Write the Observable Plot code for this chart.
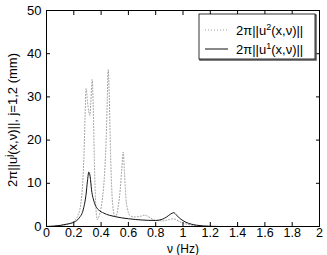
<!DOCTYPE html>
<html><head><meta charset="utf-8">
<script src="https://cdn.jsdelivr.net/npm/d3@7"></script>
<script src="https://cdn.jsdelivr.net/npm/@observablehq/plot@0.6"></script>
<style>
body{margin:0;background:#fff;}
#c{position:relative;width:327px;height:255px;}
svg{font-family:"Liberation Sans",Arial,Helvetica,sans-serif;}
</style>
</head><body><div id="c"></div>
<script>
// frequency (Hz) and 2π||u¹(x,ν)|| (mm), solid curve
const nu1 = [0, 0.05, 0.1, 0.15, 0.2, 0.24, 0.27, 0.29, 0.30, 0.31, 0.32, 0.33, 0.35, 0.38, 0.42, 0.5, 0.6, 0.7, 0.8, 0.85, 0.88, 0.91, 0.933, 0.95, 0.98, 1.02, 1.06, 1.1, 1.15, 1.2, 1.25];
const u1 = [0.02, 0.08, 0.25, 0.55, 1.0, 2.0, 4.0, 7.5, 10.5, 12.6, 11.5, 8.5, 5.6, 3.9, 3.1, 2.3, 1.8, 1.5, 1.4, 1.7, 2.2, 2.9, 3.2, 2.7, 1.8, 1.0, 0.55, 0.3, 0.12, 0.05, 0.02];
// frequency (Hz) and 2π||u²(x,ν)|| (mm), dotted curve
const nu2 = [0, 0.1, 0.15, 0.2, 0.23, 0.25, 0.265, 0.275, 0.283, 0.29, 0.30, 0.31, 0.318, 0.325, 0.335, 0.343, 0.35, 0.357, 0.365, 0.372, 0.38, 0.395, 0.41, 0.425, 0.437, 0.445, 0.452, 0.46, 0.467, 0.475, 0.485, 0.5, 0.51, 0.525, 0.54, 0.552, 0.562, 0.572, 0.582, 0.595, 0.61, 0.64, 0.68, 0.72, 0.76, 0.8, 0.85, 0.9, 0.93, 0.97, 1.0, 1.05, 1.1, 1.2];
const u2 = [0, 0.2, 0.5, 1.2, 2.5, 5, 10, 17, 26, 31.9, 29, 26.5, 25.7, 29, 34, 27, 16, 8, 3, 1.6, 2.0, 3.5, 6.5, 12, 20, 29, 36.3, 30, 20, 11, 5, 2.4, 2.5, 4.5, 8.5, 13.5, 17.2, 12, 6.5, 3.8, 2.6, 2.2, 2.3, 2.6, 2.0, 1.4, 1.3, 1.6, 1.8, 1.2, 0.8, 0.4, 0.2, 0.05];
const xTicks = [0, 0.2, 0.4, 0.6, 0.8, 1, 1.2, 1.4, 1.6, 1.8, 2];
const yTicks = [0, 10, 20, 30, 40, 50];
const legendLabels = [["u", "2"], ["u", "1"]];

const d1 = nu1.map((v, i) => ({nu: v, u: u1[i]}));
const d2 = nu2.map((v, i) => ({nu: v, u: u2[i]}));

const W = 327, H = 255, mL = 46, mR = 8, mT = 10, mB = 29;
const fmt = d => String(d);
const plot = Plot.plot({
  width: W, height: H,
  marginLeft: mL, marginRight: mR, marginTop: mT, marginBottom: mB,
  style: {fontFamily: '"Liberation Sans", Arial, sans-serif', fontSize: "13px", color: "#000", background: "#fff"},
  x: {domain: [0, 2]},
  y: {domain: [0, 50]},
  marks: [
    Plot.line(d2, {x: "nu", y: "u", curve: "monotone-x", stroke: "#9a9a9a", strokeWidth: 1, strokeDasharray: "1,2"}),
    Plot.line(d1, {x: "nu", y: "u", curve: "monotone-x", stroke: "#111", strokeWidth: 1}),
    Plot.axisX({ticks: xTicks, tickFormat: fmt, tickSize: -4, tickPadding: 6, anchor: "bottom", fontSize: 12.5, label: null}),
    Plot.axisX({ticks: xTicks, tickFormat: () => "", tickSize: -4, tickPadding: 0, anchor: "top", label: null}),
    Plot.axisY({ticks: yTicks, tickFormat: fmt, tickSize: -4, tickPadding: 9, anchor: "left", fontSize: 13, label: null}),
    Plot.axisY({ticks: yTicks, tickFormat: () => "", tickSize: -4, tickPadding: 0, anchor: "right", label: null}),
    Plot.frame({stroke: "#000", strokeWidth: 1})
  ]
});
document.getElementById("c").appendChild(plot);

const svg = d3.select(plot);
// x label
svg.append("text").attr("x", 183).attr("y", 252.5).attr("text-anchor", "middle")
  .attr("font-size", 12).attr("fill", "#000").text("ν (Hz)");
// y label
const yl = svg.append("text").attr("transform", "translate(17,120) rotate(-90)")
  .attr("text-anchor", "middle").attr("font-size", 13).attr("fill", "#000");
yl.append("tspan").text("2π||u");
yl.append("tspan").attr("baseline-shift", "super").attr("font-size", 9).text("j");
yl.append("tspan").text("(x,ν)||, j=1,2 (mm)");

// legend
const lg = svg.append("g").attr("text-anchor", "start");
lg.append("rect").attr("x", 200).attr("y", 15).attr("width", 116).attr("height", 45)
  .attr("fill", "none").attr("stroke", "#555").attr("stroke-width", 1.5);
lg.append("rect").attr("x", 199).attr("y", 14).attr("width", 116).attr("height", 45)
  .attr("fill", "#fff").attr("stroke", "#000").attr("stroke-width", 0.8);
const rows = [{y: 30, stroke: "#9a9a9a", dash: "1,2"}, {y: 49, stroke: "#111", dash: null}];
rows.forEach((r, i) => {
  const ln = lg.append("line").attr("x1", 205).attr("x2", 228).attr("y1", r.y).attr("y2", r.y)
    .attr("stroke", r.stroke).attr("stroke-width", 1);
  if (r.dash) ln.attr("stroke-dasharray", r.dash);
  const t = lg.append("text").attr("x", 236).attr("y", r.y + 4.5).attr("text-anchor", "start")
    .attr("font-size", 13).attr("fill", "#000");
  t.append("tspan").text("2π||" + legendLabels[i][0]);
  t.append("tspan").attr("baseline-shift", "super").attr("font-size", 9).text(legendLabels[i][1]);
  t.append("tspan").text("(x,ν)||");
});
</script></body></html>
